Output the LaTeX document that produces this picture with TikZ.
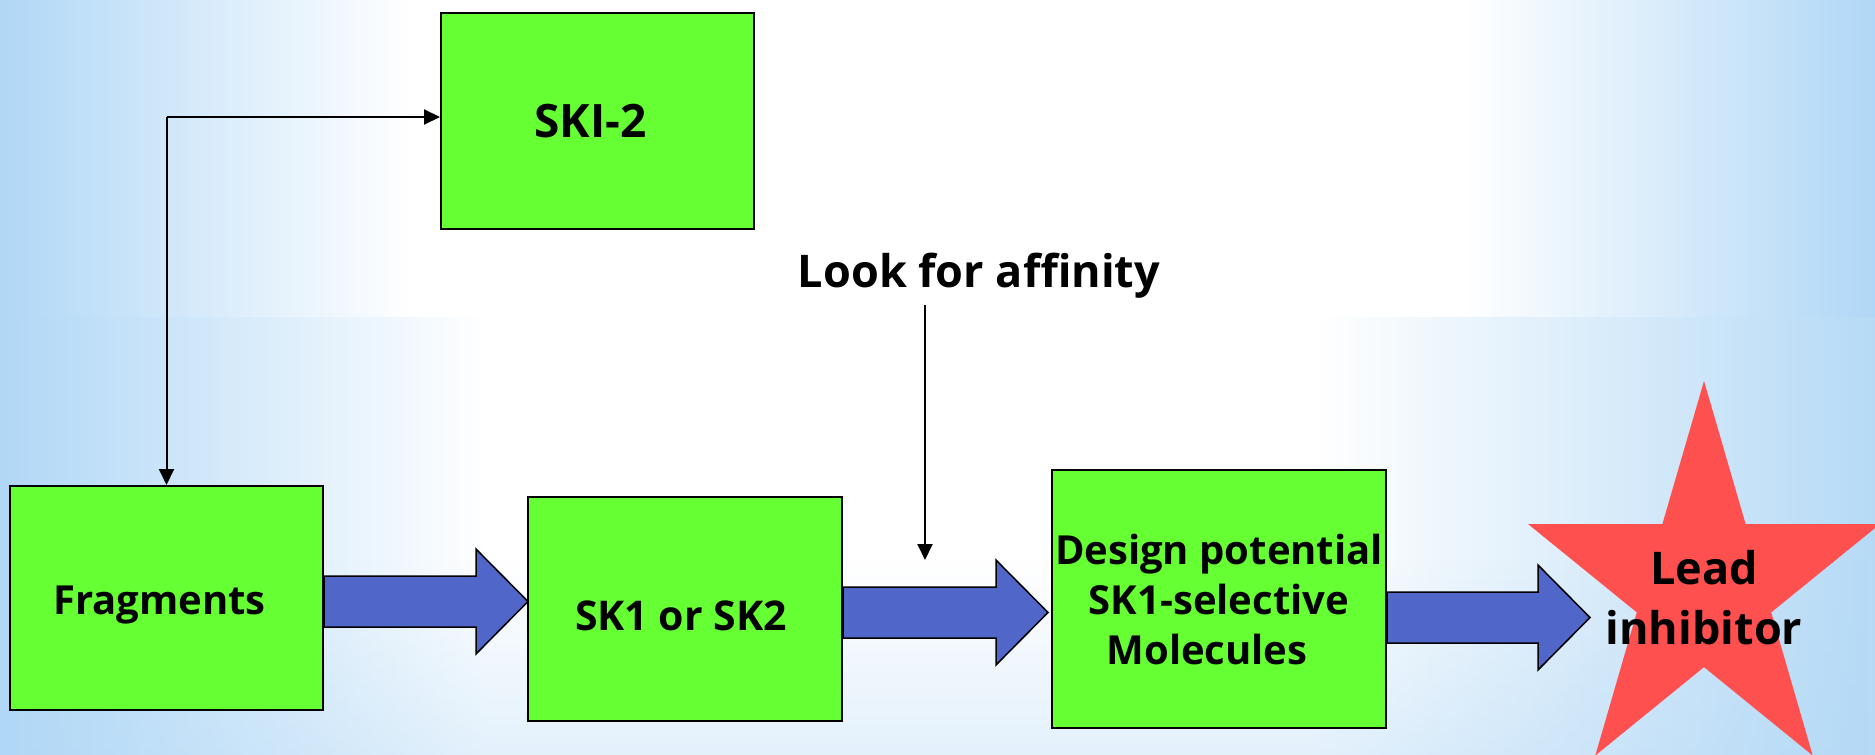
\documentclass[tikz,border=0pt]{standalone}
\usepackage{fontspec}
\setmainfont{Open Sans}
\usetikzlibrary{arrows.meta,calc,fadings}
\definecolor{bgblue}{RGB}{176,215,246}
\definecolor{bgblue2}{RGB}{182,218,246}
\definecolor{boxgreen}{RGB}{102,255,51}
\definecolor{arrblue}{RGB}{80,102,200}
\definecolor{starred}{RGB}{255,80,80}
\pgfdeclarehorizontalshading{bgtop}{100bp}{color(0bp)=(bgblue); color(25bp)=(bgblue); color(36bp)=(white); color(64bp)=(white); color(75bp)=(bgblue); color(100bp)=(bgblue)}
\pgfdeclarehorizontalshading{bgbot}{100bp}{color(0bp)=(bgblue); color(25bp)=(bgblue); color(38bp)=(white); color(60bp)=(white); color(75bp)=(bgblue2); color(100bp)=(bgblue2)}
\newcommand\blkarrow[2]{%
  \draw[blockarr] ($(#1)+(0,-25.5)$) -- ($(#2)+(-52,-25.5)$) -- ($(#2)+(-52,-52.5)$) -- (#2)
    -- ($(#2)+(-52,52.5)$) -- ($(#2)+(-52,25.5)$) -- ($(#1)+(0,25.5)$) -- cycle;}
\begin{document}
\begin{tikzpicture}[x=1pt,y=-1pt,
  greenbox/.style={draw=black,line width=2pt,fill=boxgreen,inner sep=0pt,align=center,
    font=\fontsize{40}{50}\selectfont\bfseries},
  blockarr/.style={draw=black,line width=1.5pt,fill=arrblue,line join=miter},
  thinarr/.style={draw=black,line width=2pt,-{Triangle[length=16pt,width=15pt]}},
  bigtext/.style={font=\fontsize{45}{60}\selectfont\bfseries,align=center,inner sep=0pt}]
\useasboundingbox (0,0) rectangle (1875,755);
\clip (0,0) rectangle (1875,755);
\fill[shading=bgtop] (0,0) rectangle (1875,317);
\fill[shading=bgbot] (0,317) rectangle (1875,755);
\fill[bgblue,fill opacity=0.35,path fading=north] (0,560) rectangle (1875,755);

\node[greenbox,minimum width=313pt,minimum height=216pt,font=\fontsize{46}{50}\selectfont\bfseries] (ski) at (597.5,121) {SKI-2\hspace*{14pt}};
\node[greenbox,minimum width=313pt,minimum height=224pt,text height=33pt,text depth=0pt] (frag) at (166.5,598) {Fragments\hspace*{14pt}};
\node[greenbox,minimum width=314pt,minimum height=224pt,font=\fontsize{41}{50}\selectfont\bfseries,text height=43pt,text depth=0pt] (sk) at (685,609) {SK1 or SK2\hspace*{8pt}};
\node[greenbox,minimum width=334pt,minimum height=258pt] (design) at (1219,599) {Design potential\\SK1-selective\\Molecules\hspace*{24pt}};

\fill[starred] (1704,381) -- (1662.4,524) -- (1528,524) -- (1636.8,612.4) -- (1595.3,755.5)
  -- (1704,667.1) -- (1812.7,755.5) -- (1771.2,612.4) -- (1880,524) -- (1745.6,524) -- cycle;
\node[bigtext] (lead) at (1704,598) {Lead\\inhibitor};

\node[bigtext] (look) at (979,276) {Look for affinity};
\coordinate (lookstart) at (925,305);
\coordinate (lookend) at (925,560);
\draw[thinarr] (lookstart) -- (lookend);

\coordinate (elbow) at (166.5,117);
\draw[thinarr] (elbow) -- (ski.west |- elbow);
\draw[thinarr] (elbow) -- (frag.north);

\coordinate (t1) at (528,601.5);
\coordinate (t2) at (1048,612.5);
\coordinate (t3) at (1590,617.5);
\blkarrow{frag.east |- t1}{t1}
\blkarrow{sk.east |- t2}{t2}
\blkarrow{design.east |- t3}{t3}
\end{tikzpicture}
\end{document}
